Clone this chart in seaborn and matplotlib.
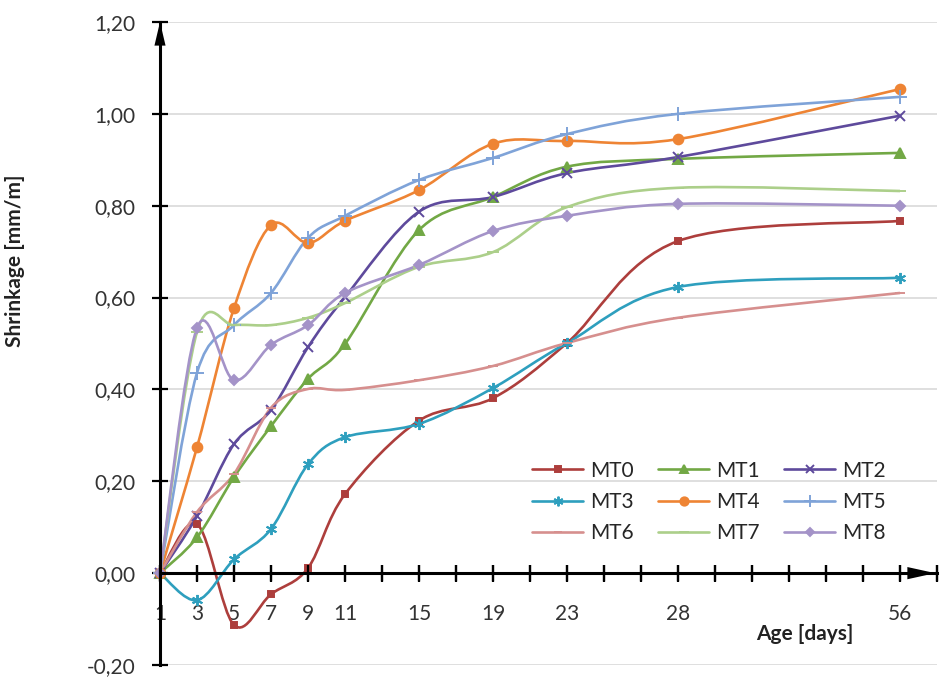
import matplotlib.pyplot as plt
import seaborn as sns
import numpy as np
from matplotlib.path import Path
from matplotlib.patches import PathPatch
from matplotlib.lines import Line2D
from matplotlib.ticker import FuncFormatter

sns.set_theme(style="white")
plt.rcParams['font.family'] = ['Lato', 'DejaVu Sans']

# x values of the series (chart units) and their day labels
x_pos = [0, 1, 2, 3, 4, 5, 7, 9, 11, 14, 20]
day_labels = ['1', '3', '5', '7', '9', '11', '15', '19', '23', '28', '56']

mt0 = [0, 0.107, -0.113, -0.046, 0.011, 0.172, 0.332, 0.381, 0.501, 0.723, 0.767]
mt1 = [0, 0.078, 0.209, 0.320, 0.423, 0.499, 0.747, 0.819, 0.885, 0.902, 0.915]
mt2 = [0, 0.124, 0.281, 0.355, 0.492, 0.601, 0.787, 0.819, 0.871, 0.906, 0.996]
mt3 = [0, -0.059, 0.030, 0.096, 0.237, 0.296, 0.325, 0.403, 0.501, 0.623, 0.643]
mt4 = [0, 0.274, 0.577, 0.758, 0.719, 0.767, 0.834, 0.935, 0.941, 0.945, 1.054]
mt5 = [0, 0.436, 0.540, 0.610, 0.730, 0.778, 0.856, 0.904, 0.956, 1.000, 1.037]
mt6 = [0, 0.133, 0.216, 0.360, 0.401, 0.399, 0.420, 0.451, 0.501, 0.556, 0.610]
mt7 = [0, 0.525, 0.540, 0.540, 0.556, 0.588, 0.667, 0.699, 0.797, 0.839, 0.832]
mt8 = [0, 0.534, 0.420, 0.497, 0.540, 0.610, 0.671, 0.745, 0.778, 0.804, 0.800]

names = ['MT0', 'MT1', 'MT2', 'MT3', 'MT4', 'MT5', 'MT6', 'MT7', 'MT8']
series = [mt0, mt1, mt2, mt3, mt4, mt5, mt6, mt7, mt8]
colors = ['#AD3E3C', '#72A845', '#5E4A9C', '#2E9FBE', '#EE8434',
          '#7FA3D8', '#D68F8E', '#ACCF8A', '#A493C8']
markers = ['s', '^', 'x', (6, 2, 0), 'o', '+', '_', '_', 'D']
msizes = [5, 7, 7, 8, 7, 10, 7, 8, 5]


def smooth_path(xs, ys):
    # Excel-like smoothed line: cubic Bezier through the data points
    pts = np.column_stack([xs, ys]).astype(float)
    n = len(pts)
    verts = [pts[0]]
    codes = [Path.MOVETO]
    for i in range(n - 1):
        p0 = pts[i - 1] if i > 0 else pts[i]
        p1 = pts[i]
        p2 = pts[i + 1]
        p3 = pts[i + 2] if i + 2 < n else pts[i + 1]
        verts += [p1 + (p2 - p0) / 6, p2 - (p3 - p1) / 6, p2]
        codes += [Path.CURVE4] * 3
    return Path(verts, codes)


fig = plt.figure(figsize=(9.4, 6.78), dpi=100)
ax = fig.add_axes([160 / 940, 13 / 678, 777 / 940, 643 / 678])

handles = []
for name, vals, c, m, ms in zip(names, series, colors, markers, msizes):
    ax.add_patch(PathPatch(smooth_path(x_pos, vals), fill=False, edgecolor=c, lw=1.9))
    sns.lineplot(x=x_pos, y=vals, marker=m, linestyle='', color=c, markersize=ms,
                 markeredgecolor=c, markeredgewidth=1.4, ax=ax, clip_on=False)
    handles.append(Line2D([], [], color=c, lw=1.9, marker=m, markersize=ms - 1,
                          markeredgecolor=c, markeredgewidth=1.4))

ax.set_xlim(0, 21)
ax.set_ylim(-0.2, 1.2)

# axes styling
for s in ['top', 'right']:
    ax.spines[s].set_visible(False)
ax.spines['bottom'].set_position(('data', 0))
ax.spines['left'].set_position(('data', 0))
ax.spines['bottom'].set_linewidth(2.2)
ax.spines['left'].set_linewidth(2.2)
ax.spines['bottom'].set_color('black')
ax.spines['left'].set_color('black')

ax.set_xticks(range(22))
lab_map = dict(zip(x_pos, day_labels))
ax.set_xticklabels([lab_map.get(i, '') for i in range(22)])
ax.set_yticks(np.arange(-0.2, 1.21, 0.2))
ax.yaxis.set_major_formatter(FuncFormatter(lambda v, p: f"{v:.2f}".replace('.', ',')))
ax.yaxis.grid(True, color='#D9D9D9', lw=1.2)
ax.xaxis.grid(False)
ax.set_axisbelow(True)

# arrow heads on axes
ax.annotate('', xy=(20.95, 0), xytext=(20.0, 0),
            arrowprops=dict(arrowstyle='-|>,head_length=1.0,head_width=0.22',
                            color='black', lw=0, mutation_scale=20, shrinkA=0, shrinkB=0))
ax.annotate('', xy=(0, 1.2), xytext=(0, 1.08),
            arrowprops=dict(arrowstyle='-|>,head_length=0.85,head_width=0.2',
                            color='black', lw=0, mutation_scale=20, shrinkA=0, shrinkB=0))

ax.set_xlabel('')
ax.set_ylabel('Shrinkage [mm/m]', fontsize=15, fontweight='bold', color='#222222')
ax.yaxis.set_label_coords(-0.174, 0.628)
ax.text(0.83, 0.048, 'Age [days]', transform=ax.transAxes, ha='center', va='center',
        fontsize=15, fontweight='bold', color='#222222')

# legend filled row-wise like the original
order = [0, 3, 6, 1, 4, 7, 2, 5, 8]
ax.legend([handles[i] for i in order], [names[i] for i in order], ncol=3,
          loc='upper left', bbox_to_anchor=(0.479, 0.318), frameon=False,
          fontsize=15, handlelength=2.45, handletextpad=0.35, columnspacing=1.15,
          labelspacing=0.55, borderpad=0, borderaxespad=0)

ax.tick_params(axis='x', bottom=True, direction='inout', length=12, width=1.6, pad=16,
               labelsize=15, colors='black', labelcolor='#333333')
ax.tick_params(axis='y', left=True, direction='inout', length=11, width=1.6, pad=12,
               labelsize=15, colors='black', labelcolor='#333333')

# crossing tick marks on the x axis, drawn at the axis tick positions
half = 8.5 / 643 * (1.2 - (-0.2))
ax.vlines(ax.get_xticks(), -half, half, colors='black', lw=1.6, zorder=6, clip_on=False)

fig.savefig('out.png', dpi=100)
